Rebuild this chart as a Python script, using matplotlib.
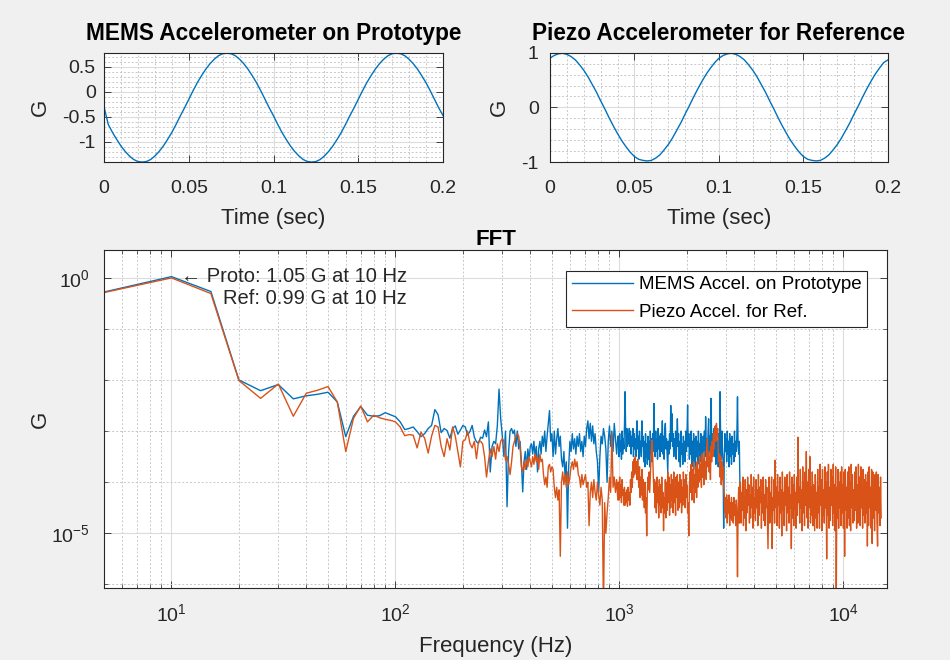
import numpy as np
import matplotlib
matplotlib.use('Agg')
import matplotlib.pyplot as plt
from matplotlib.ticker import FixedLocator, NullFormatter, LogLocator, MultipleLocator

plt.rcParams['font.family'] = ['Liberation Sans', 'DejaVu Sans']
plt.rcParams['mathtext.fontset'] = 'custom'
plt.rcParams['mathtext.rm'] = 'Liberation Sans'
plt.rcParams['mathtext.it'] = 'Liberation Sans:italic'
plt.rcParams['mathtext.bf'] = 'Liberation Sans:bold'
plt.rcParams['axes.unicode_minus'] = False

BLUE = '#0072BD'
ORANGE = '#D95319'
TXT = '#262626'

# ---- time signals (0 .. 0.2 s, 2.5 ms steps) ----
t_sec = np.linspace(0, 0.2, 81)
mems_wave = [
    -0.30, -0.65, -0.81, -0.95, -1.08, -1.19, -1.28, -1.35, -1.39, -1.40,
    -1.39, -1.35, -1.28, -1.19, -1.08, -0.95, -0.81, -0.65, -0.48, -0.32,
    -0.15, 0.02, 0.18, 0.32, 0.45, 0.56, 0.65, 0.72, 0.76, 0.77,
    0.76, 0.72, 0.65, 0.56, 0.45, 0.32, 0.18, 0.02, -0.15, -0.32,
    -0.48, -0.65, -0.81, -0.95, -1.08, -1.19, -1.28, -1.35, -1.39, -1.40,
    -1.39, -1.35, -1.28, -1.19, -1.08, -0.95, -0.81, -0.65, -0.48, -0.32,
    -0.15, 0.02, 0.18, 0.32, 0.45, 0.56, 0.65, 0.72, 0.76, 0.77,
    0.76, 0.72, 0.65, 0.56, 0.45, 0.32, 0.18, 0.02, -0.15, -0.32,
    -0.47,
]
piezo_wave = [
    0.90, 0.95, 0.98, 0.99, 0.97, 0.93, 0.87, 0.78, 0.68, 0.56,
    0.42, 0.28, 0.12, -0.03, -0.19, -0.34, -0.48, -0.61, -0.72, -0.82,
    -0.90, -0.95, -0.97, -0.98, -0.97, -0.93, -0.87, -0.78, -0.68, -0.56,
    -0.42, -0.28, -0.12, 0.03, 0.19, 0.34, 0.48, 0.61, 0.72, 0.82,
    0.90, 0.95, 0.98, 0.99, 0.97, 0.93, 0.87, 0.78, 0.68, 0.56,
    0.42, 0.28, 0.12, -0.03, -0.19, -0.34, -0.48, -0.61, -0.72, -0.82,
    -0.90, -0.95, -0.97, -0.98, -0.97, -0.93, -0.87, -0.78, -0.68, -0.56,
    -0.42, -0.28, -0.12, 0.03, 0.19, 0.34, 0.48, 0.61, 0.72, 0.82,
    0.87,
]

# ---- FFT, low band: 5 Hz bins, values are log10(G) ----
fft_freq_low = [
    5, 10, 15, 20, 25, 30, 35, 40, 45, 50,
    55, 60, 65, 70, 75, 80, 85, 90, 95, 100,
    105, 110, 115, 120, 125, 130, 135, 140, 145, 150,
    155, 160, 165, 170, 175, 180, 185, 190, 195, 200,
    205, 210, 215, 220, 225, 230, 235, 240, 245, 250,
    255, 260, 265, 270, 275, 280, 285, 290, 295, 300,
    305, 310, 315, 320, 325, 330, 335, 340, 345, 350,
    355, 360, 365, 370, 375, 380, 385, 390, 395, 400,
]
mems_low_log = [
    -0.28, 0.021, -0.27, -2.00, -2.21, -2.09, -2.37, -2.31, -2.28, -2.24,
    -2.43, -3.11, -2.71, -2.52, -2.69, -2.71, -2.70, -2.64, -2.68, -2.72,
    -2.82, -2.97, -2.95, -2.92, -3.01, -3.11, -3.05, -2.95, -2.89, -2.58,
    -2.68, -3.03, -2.95, -2.99, -3.14, -2.95, -2.90, -3.06, -2.98, -2.89,
    -2.92, -3.08, -3.01, -2.89, -3.12, -3.21, -3.24, -3.12, -3.14, -2.98,
    -3.11, -2.82, -3.80, -3.30, -3.20, -3.25, -2.90, -2.18, -2.75, -3.10,
    -3.50, -3.00, -4.48, -3.40, -3.00, -2.95, -3.05, -2.98, -3.30, -3.00,
    -3.35, -3.20, -3.60, -4.19, -3.60, -3.40, -3.75, -3.35, -3.55, -3.30,
]
piezo_low_log = [
    -0.29, -0.004, -0.31, -2.01, -2.36, -2.08, -2.71, -2.26, -2.20, -2.13,
    -2.43, -3.40, -2.75, -2.51, -2.82, -2.69, -2.74, -2.77, -2.79, -2.82,
    -2.92, -3.09, -3.07, -3.08, -3.33, -3.02, -3.14, -3.43, -3.10, -2.89,
    -2.92, -3.30, -3.50, -3.15, -3.37, -2.92, -3.10, -3.40, -3.70, -3.20,
    -3.17, -3.00, -3.24, -3.33, -3.20, -3.54, -3.20, -3.20, -3.25, -3.50,
    -3.90, -3.60, -3.35, -3.50, -3.30, -3.55, -3.25, -3.40, -3.20, -3.15,
    -3.20, -3.57, -3.50, -3.65, -3.85, -3.60, -3.30, -3.20, -3.10, -3.05,
    -3.10, -3.30, -3.70, -3.80, -3.60, -3.75, -3.55, -3.70, -3.50, -3.60,
]

# ---- FFT, upper bands: values read along the log frequency axis ----
mems_mid_range = (405, 984)
mems_mid_log = [
    -3.25, -3.45, -3.2, -3.5, -3.3, -3.8, -3.35, -3.2, -3.45, -3.1,
    -3.3, -3.0, -3.4, -3.1, -2.85, -2.6, -3.2, -3.05, -3.5, -3.0,
    -3.45, -3.15, -2.95, -3.3, -3.1, -3.55, -3.7, -3.4, -3.9, -3.6,
    -4.9, -3.7, -3.2, -3.4, -3.05, -3.35, -3.15, -3.45, -3.1, -3.3,
    -3.05, -3.4, -3.2, -3.5, -3.1, -3.3, -2.95, -2.8, -3.15, -2.85,
    -3.2, -2.9, -3.25, -3.05, -3.4, -3.6, -4.2, -3.5, -3.1, -3.25,
    -2.95, -3.1, -3.35, -4.0, -3.2, -2.9, -3.3, -3.0, -3.4, -2.85,
    -3.15, -3.45, -3.1,
]
mems_dense_range = (990, 3450)
mems_dense_log = [
    -3.1, -3.5, -3.05, -3.4, -3.2, -3.55, -3.0, -3.45, -3.15, -3.35,
    -2.9, -2.23, -3.0, -3.4, -2.95, -3.3, -3.05, -3.25, -2.95, -3.3,
    -3.0, -3.45, -3.1, -3.3, -2.95, -3.5, -3.05, -3.35, -3.15, -3.5,
    -3.0, -2.8, -3.35, -3.1, -3.55, -3.0, -3.4, -3.2, -3.5, -2.8,
    -3.3, -3.1, -3.6, -3.2, -3.7, -3.05, -3.5, -3.25, -3.65, -3.1,
    -3.55, -3.2, -3.7, -3.0, -3.45, -3.15, -3.6, -3.05, -3.4, -2.46,
    -3.2, -3.5, -3.0, -3.4, -3.15, -3.55, -2.95, -3.35, -3.1, -3.5,
    -3.05, -3.4, -3.2, -2.8, -3.45, -3.1, -3.55, -3.0, -2.85, -3.35,
    -3.15, -3.5, -3.8, -3.2, -3.45, -3.05, -3.35, -2.5, -3.2, -2.66,
    -3.3, -3.05, -3.5, -3.15, -3.4, -3.0, -3.55, -3.2, -2.76, -3.3,
    -3.05, -3.6, -3.2, -3.7, -3.0, -3.45, -3.25, -3.65, -3.1, -3.5,
    -3.2, -3.6, -3.0, -3.4, -3.1, -2.49, -3.3, -3.05, -3.55, -3.15,
    -3.45, -3.0, -3.7, -3.2, -3.5, -3.05, -3.6, -3.15, -3.75, -3.1,
    -3.5, -3.2, -3.65, -3.0, -3.4, -3.25, -3.6, -3.05, -3.45, -3.2,
    -3.55, -3.1, -3.4, -3.0, -3.5, -2.72, -3.3, -3.15, -3.6, -3.05,
    -2.76, -3.4, -3.1, -3.5, -2.36, -3.2, -3.45, -3.05, -3.35, -2.95,
    -3.5, -3.1, -3.65, -3.0, -3.4, -3.2, -3.7, -3.05, -3.45, -2.23,
    -3.2, -3.55, -3.0, -3.4, -3.6, -4.9, -3.5, -3.05, -3.4, -3.15,
    -3.6, -3.0, -3.45, -3.2, -3.7, -3.05, -3.5, -3.15, -3.65, -3.1,
    -3.45, -3.25, -3.6, -3.0, -3.5, -3.2, -3.4, -3.05, -2.33, -3.3,
    -3.45, -3.2, -4.0,
]
piezo_mid_range = (405, 984)
piezo_mid_log = [
    -3.7, -3.5, -3.65, -3.45, -3.6, -3.5, -3.75, -3.45, -3.6, -3.55,
    -3.85, -4.05, -3.9, -4.1, -3.7, -3.65, -3.8, -3.7, -3.75, -4.1,
    -4.3, -4.1, -4.35, -4.15, -5.45, -4.0, -3.8, -4.05, -3.85, -4.1,
    -3.8, -4.05, -3.9, -3.7, -3.6, -3.75, -3.55, -3.7, -3.6, -3.85,
    -3.9, -4.1, -3.85, -4.05, -3.95, -3.85, -4.1, -4.0, -4.85, -4.2,
    -4.0, -4.3, -3.95, -4.2, -4.35, -4.0, -4.25, -4.45, -4.1, -4.35,
    -6.5, -4.4, -5.0, -4.6, -4.3, -3.9, -4.2, -3.05, -4.1, -3.9,
    -4.2, -3.95, -4.35,
]
piezo_dense_range = (990, 3450)
piezo_dense_log = [
    -4.0, -4.35, -3.9, -4.3, -4.05, -4.4, -3.95, -4.25, -4.15, -4.45,
    -4.1, -4.45, -4.2, -4.4, -4.15, -4.47, -4.1, -4.35, -4.2, -4.45,
    -3.95, -4.2, -3.8, -4.1, -3.6, -3.9, -3.55, -3.85, -3.5, -3.8,
    -3.6, -3.95, -3.55, -3.9, -4.1, -3.7, -4.3, -3.9, -4.25, -3.75,
    -4.35, -3.95, -4.2, -4.5, -4.0, -4.6, -4.3, -5.05, -4.2, -3.9,
    -4.15, -3.8, -4.2, -3.9, -3.6, -3.3, -3.18, -3.5, -3.9, -4.2,
    -3.95, -4.5, -4.0, -4.6, -3.9, -4.4, -4.1, -4.7, -3.95, -4.45,
    -4.05, -4.6, -3.9, -4.5, -4.2, -4.95, -4.3, -4.6, -3.95, -4.7,
    -4.0, -4.55, -3.8, -4.4, -3.9, -4.65, -4.05, -4.5, -3.85, -4.35,
    -3.95, -4.6, -3.8, -4.4, -4.1, -4.65, -3.9, -4.3, -3.85, -4.55,
    -4.0, -4.5, -3.85, -4.4, -3.95, -4.6, -4.1, -4.45, -3.8, -4.35,
    -3.95, -4.5, -3.85, -4.3, -4.05, -4.6, -4.4, -5.05, -4.1, -3.8,
    -4.2, -3.65, -4.35, -3.75, -4.1, -3.6, -4.4, -3.85, -4.2, -3.7,
    -4.3, -3.6, -4.1, -3.75, -4.0, -3.5, -3.95, -3.65, -4.1, -3.45,
    -3.9, -3.55, -4.05, -3.4, -3.85, -3.6, -3.95, -3.35, -3.15, -3.7,
    -3.4, -3.8, -3.5, -3.95, -3.3, -3.6, -3.2, -3.5, -3.05, -3.35,
    -3.0, -2.9, -3.2, -2.85, -3.1, -2.95, -3.4, -3.6, -3.45, -3.9,
    -3.5, -4.05, -3.6, -3.95, -3.7, -4.1, -4.25, -4.6, -4.3, -4.7,
    -4.25, -4.8, -4.35, -4.6, -4.25, -4.85, -4.4, -4.7, -4.3, -4.75,
    -4.4, -4.8, -4.3, -4.65, -4.45, -4.85, -4.35, -4.7, -5.85, -4.5,
    -4.1, -4.8, -4.0,
]
piezo_top_range = (3470, 14740)
piezo_top_log = [
    -4.0, -4.8, -4.2, -4.55, -3.9, -4.85, -4.3, -4.7, -3.95, -4.95,
    -4.15, -4.6, -3.9, -4.45, -4.05, -4.8, -4.25, -4.7, -3.85, -4.5,
    -4.1, -4.9, -3.9, -4.6, -4.3, -4.75, -3.95, -4.5, -4.15, -4.85,
    -3.85, -4.65, -4.1, -4.4, -3.95, -4.9, -4.2, -4.6, -3.9, -4.75,
    -4.25, -4.85, -3.95, -4.5, -4.1, -4.75, -5.3, -4.4, -3.9, -4.8,
    -4.2, -4.65, -3.9, -5.3, -4.3, -4.55, -3.95, -4.8, -3.57, -4.5,
    -4.1, -4.85, -3.85, -4.45, -4.2, -4.9, -3.9, -4.6, -4.15, -5.05,
    -3.8, -4.55, -4.2, -4.85, -3.9, -4.45, -4.15, -4.95, -3.85, -4.6,
    -4.1, -4.8, -3.8, -4.5, -4.25, -5.3, -3.9, -4.7, -4.05, -4.85,
    -3.85, -4.55, -4.2, -4.9, -3.9, -4.65, -3.12, -4.4, -4.1, -4.8,
    -3.75, -4.5, -4.15, -4.95, -3.7, -4.6, -4.0, -4.85, -3.8, -4.45,
    -3.4, -4.7, -4.0, -4.9, -3.75, -4.5, -3.5, -4.8, -4.1, -4.65,
    -3.8, -4.85, -4.05, -4.5, -4.95, -3.85, -4.7, -4.2, -4.9, -3.75,
    -4.6, -4.1, -4.9, -3.65, -4.45, -3.95, -4.95, -3.75, -4.65, -4.15,
    -4.8, -3.7, -4.5, -4.0, -5.5, -3.8, -4.65, -3.65, -4.9, -4.1,
    -4.75, -3.75, -4.45, -3.9, -4.85, -3.65, -4.6, -4.05, -4.95, -3.7,
    -6.3, -4.1, -4.7, -3.75, -4.9, -4.0, -4.5, -3.8, -4.85, -3.7,
    -4.6, -4.05, -4.9, -3.8, -5.45, -3.75, -4.55, -4.1, -4.9, -3.8,
    -4.7, -3.7, -4.85, -4.0, -4.95, -3.65, -4.5, -3.85, -4.8, -4.15,
    -4.75, -3.8, -4.55, -3.7, -4.9, -4.05, -4.8, -3.65, -4.6, -3.9,
    -4.85, -3.7, -4.5, -4.1, -4.9, -3.75, -4.65, -3.95, -4.8, -3.85,
    -4.6, -4.0, -5.25, -3.8, -4.85, -3.7, -4.5, -4.1, -4.9, -3.75,
    -5.2, -3.8, -4.7, -4.05, -4.95, -3.85, -4.55, -3.8, -4.8, -5.25,
    -3.85, -4.6, -4.1, -4.85, -3.9, -4.7,
]

legend_labels = ['MEMS Accel. on Prototype', 'Piezo Accel. for Ref.']
note_text = '\u2190 Proto: 1.05 G at 10 Hz\nRef: 0.99 G at 10 Hz'


def series(low_log, bands):
    freqs = [np.array(fft_freq_low, float)]
    vals = [np.array(low_log)]
    for (f0, f1), band in bands:
        freqs.append(np.geomspace(f0, f1, len(band)))
        vals.append(np.array(band))
    return np.concatenate(freqs), 10 ** np.concatenate(vals)


def style(ax, tick_pad_x, tick_pad_y):
    ax.set_facecolor('white')
    for s in ax.spines.values():
        s.set_color(TXT)
        s.set_linewidth(0.8)
    ax.tick_params(which='both', direction='in', top=True, right=True,
                   colors=TXT, labelsize=14)
    ax.tick_params(which='major', length=5, width=0.6)
    ax.tick_params(axis='x', which='major', pad=tick_pad_x)
    ax.tick_params(axis='y', which='major', pad=tick_pad_y)
    ax.grid(True, which='major', color='#dcdcdc', linewidth=0.8)
    ax.grid(True, which='minor', color='#c8c8c8', linestyle=(0, (2, 2)), linewidth=0.7)
    ax.set_axisbelow(True)


fig = plt.figure(figsize=(9.5, 6.6), dpi=100, facecolor='#f0f0f0')

# --- top left ---
ax1 = fig.add_axes([0.1095, 0.7545, 0.3568, 0.1656])
ax1.plot(t_sec, mems_wave, color=BLUE, lw=1.0)
ax1.set_xlim(0, 0.2)
ax1.set_ylim(-1.40, 0.78)
ax1.set_xticks([0, 0.05, 0.1, 0.15, 0.2])
ax1.set_xticklabels(['0', '0.05', '0.1', '0.15', '0.2'])
ax1.set_yticks([-1, -0.5, 0, 0.5])
ax1.set_yticklabels(['-1', '-0.5', '0', '0.5'])
ax1.xaxis.set_minor_locator(MultipleLocator(0.01))
ax1.yaxis.set_minor_locator(MultipleLocator(0.1))
style(ax1, 13, 6)
ax1.tick_params(which='minor', length=0)
ax1.set_xlabel('Time (sec)', fontsize=16, color=TXT, labelpad=8)
ax1.set_ylabel('G', fontsize=16, color=TXT, labelpad=8)
ax1.set_title('MEMS Accelerometer on Prototype', fontsize=16.3, fontweight='bold', pad=9)

# --- top right ---
ax2 = fig.add_axes([0.5789, 0.7545, 0.3558, 0.1656])
ax2.plot(t_sec, piezo_wave, color=BLUE, lw=1.0)
ax2.set_xlim(0, 0.2)
ax2.set_ylim(-1, 1)
ax2.set_xticks([0, 0.05, 0.1, 0.15, 0.2])
ax2.set_xticklabels(['0', '0.05', '0.1', '0.15', '0.2'])
ax2.set_yticks([-1, 0, 1])
ax2.set_yticklabels(['-1', '0', '1'])
ax2.xaxis.set_minor_locator(MultipleLocator(0.01))
ax2.yaxis.set_minor_locator(MultipleLocator(0.2))
style(ax2, 13, 8)
ax2.tick_params(which='minor', length=0)
ax2.set_xlabel('Time (sec)', fontsize=16, color=TXT, labelpad=8)
ax2.set_ylabel('G', fontsize=16, color=TXT, labelpad=8)
ax2.set_title('Piezo Accelerometer for Reference', fontsize=16.3, fontweight='bold', pad=9)

# --- FFT ---
ax3 = fig.add_axes([0.1095, 0.1091, 0.8245, 0.5121])
f_m, g_m = series(mems_low_log, [(mems_mid_range, mems_mid_log),
                                 (mems_dense_range, mems_dense_log)])
f_p, g_p = series(piezo_low_log, [(piezo_mid_range, piezo_mid_log),
                                  (piezo_dense_range, piezo_dense_log),
                                  (piezo_top_range, piezo_top_log)])
ax3.plot(f_m, g_m, color=BLUE, lw=1.0, label=legend_labels[0])
ax3.plot(f_p, g_p, color=ORANGE, lw=1.0, label=legend_labels[1])
ax3.set_xscale('log')
ax3.set_yscale('log')
ax3.set_xlim(5, 15700)
ax3.set_ylim(10 ** -6.07, 10 ** 0.542)
ax3.xaxis.set_major_locator(LogLocator(base=10, numticks=10))
ax3.xaxis.set_minor_locator(LogLocator(base=10, subs=np.arange(2, 10), numticks=20))
ax3.xaxis.set_minor_formatter(NullFormatter())
ax3.yaxis.set_major_locator(FixedLocator([1e-5, 1e0]))
ax3.yaxis.set_minor_locator(FixedLocator([1e-6, 1e-4, 1e-3, 1e-2, 1e-1]))
ax3.yaxis.set_minor_formatter(NullFormatter())
style(ax3, 11, 10)
ax3.tick_params(which='minor', length=3, width=0.5)
ax3.set_xlabel('Frequency (Hz)', fontsize=16, color=TXT, labelpad=8)
ax3.set_ylabel('G', fontsize=16, color=TXT, labelpad=0)
ax3.set_title('FFT', fontsize=16, fontweight='bold', pad=3)
ax3.text(11.0, 10 ** -0.19, note_text, fontsize=14.5, color=TXT,
         ha='left', va='center', multialignment='right', linespacing=1.25)
leg = ax3.legend(loc='upper right', bbox_to_anchor=(0.9745, 0.9388), borderaxespad=0,
                 fontsize=13.5, frameon=True, fancybox=False, handlelength=3.3,
                 handletextpad=0.3, labelspacing=0.55, borderpad=0.3)
leg.get_frame().set_edgecolor(TXT)
leg.get_frame().set_linewidth(0.8)
leg.get_frame().set_alpha(1)

fig.savefig('out.png', dpi=100, facecolor=fig.get_facecolor())
